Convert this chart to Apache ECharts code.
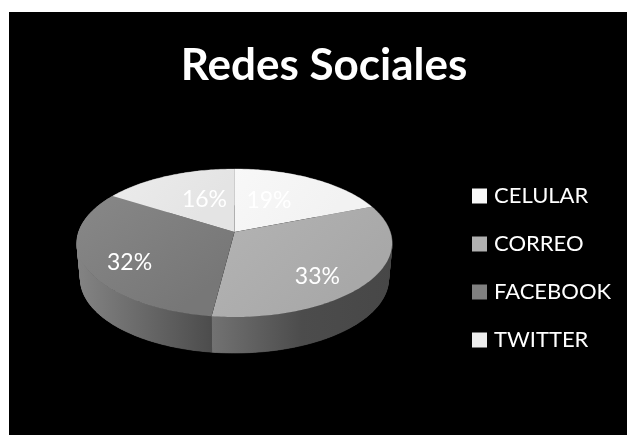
<!DOCTYPE html>
<html>
<head>
<meta charset="utf-8">
<style>
  html, body { margin: 0; padding: 0; background: #fff; }
  #chart { width: 627px; height: 435px; }
</style>
<script src="https://cdn.jsdelivr.net/npm/echarts@6/dist/echarts.min.js"></script>
</head>
<body>
<div id="chart"></div>
<script>
const chartTitle = 'Redes Sociales';
const categories = ['CELULAR', 'CORREO', 'FACEBOOK', 'TWITTER'];
const shares = [19, 33, 32, 16];

// Face and wall shading for each slice.
const faceColors = [
  ['#f8f8f8', '#f2f2f2'],
  ['#b4b4b4', '#a8a8a8'],
  ['#888888', '#777777'],
  ['#ececec', '#e4e4e4']
];
const wallColors = [
  ['#9a9a9a', '#6a6a6a', '#6a6a6a'],
  ['#727272', '#4c4c4c', '#474747'],
  ['#848484', '#686868', '#4c4c4c'],
  ['#8a8a8a', '#6a6a6a', '#6a6a6a']
];
const legendColors = ['#f8f8f8', '#b0b0b0', '#808080', '#ececec'];

// Tilted disc: a circle seen in perspective, so its centre sits above the
// middle of the ellipse it projects to.
const topDisc = { cx: 234.5, cy: 243, a: 155.8, b: 74, d: -11, k: 0.1486 };
const bottomDisc = { cx: 234.5, cy: 279, a: 152.3, b: 74, d: -11, k: 0.1486 };
const labelRadius = 0.62;
const labelNudge = [[-16, 3], [2, 15], [-14, 11], [13, 4]];

function project(disc, angle, r) {
  const u = r * Math.sin(angle);
  const v = -r * Math.cos(angle);
  const w = 1 - disc.k * v;
  return [disc.cx + disc.a * u / w, disc.cy + (disc.b * v + disc.d) / w];
}

function rim(disc, from, to) {
  const steps = Math.max(2, Math.ceil((to - from) / (Math.PI / 180)));
  const pts = [];
  for (let i = 0; i <= steps; i++) {
    pts.push(project(disc, from + (to - from) * i / steps, 1));
  }
  return pts;
}

const total = shares.reduce((s, v) => s + v, 0);
function sliceAngles(index) {
  const before = shares.slice(0, index).reduce((s, v) => s + v, 0);
  return [before / total * 2 * Math.PI, (before + shares[index]) / total * 2 * Math.PI];
}

function faceShade(stops) {
  return new echarts.graphic.LinearGradient(0, 0, 0.6, 1, [
    { offset: 0, color: stops[0] },
    { offset: 1, color: stops[1] }
  ]);
}

// Horizontal shading in page pixels, so every wall piece shares one ramp.
function wallShade(stops, x0, x1) {
  return new echarts.graphic.LinearGradient(x0, 0, x1, 0, [
    { offset: 0, color: stops[0] },
    { offset: 0.5, color: stops[1] },
    { offset: 1, color: stops[2] }
  ], true);
}

// The two rims cross near the silhouette, so small facets fill the tangent
// edge there and one smooth band on top covers their seams everywhere else.
function wallPieces(top, bottom, stops) {
  const xs = top.concat(bottom).map(p => p[0]);
  const fill = wallShade(stops, Math.min(...xs), Math.max(...xs));
  const pieces = [];
  for (let i = 0; i < top.length - 1; i++) {
    pieces.push({
      type: 'polygon',
      z2: 1,
      shape: { points: [top[i], top[i + 1], bottom[i + 1], bottom[i]] },
      style: { fill, stroke: fill, lineWidth: 0.6 }
    });
  }
  pieces.push({
    type: 'polygon',
    z2: 2,
    shape: { points: top.concat(bottom.slice().reverse()) },
    style: { fill }
  });
  return pieces;
}

function renderSlice(seriesIndex) {
  return function () {
    const [from, to] = sliceAngles(seriesIndex);
    const top = rim(topDisc, from, to);
    const bottom = rim(bottomDisc, from, to);
    const apex = project(topDisc, 0, 0);
    const mid = (from + to) / 2;
    const anchor = project(topDisc, mid, labelRadius);
    const nudge = labelNudge[seriesIndex];
    return {
      type: 'group',
      children: wallPieces(top, bottom, wallColors[seriesIndex]).concat([
        {
          type: 'polygon',
          z2: 10,
          shape: { points: [apex].concat(top) },
          style: { fill: faceShade(faceColors[seriesIndex]) }
        },
        {
          type: 'text',
          z2: 20,
          x: anchor[0] + nudge[0],
          y: anchor[1] + nudge[1],
          style: {
            text: shares[seriesIndex] + '%',
            fill: '#ffffff',
            font: '23px Lato',
            align: 'center',
            verticalAlign: 'middle'
          }
        }
      ])
    };
  };
}

const chart = echarts.init(document.getElementById('chart'), null, { renderer: 'canvas' });
chart.setOption({
  animation: false,
  backgroundColor: '#ffffff',
  title: {
    text: chartTitle,
    left: 324,
    top: 44,
    padding: 0,
    textAlign: 'center',
    textStyle: { color: '#ffffff', fontFamily: 'Lato', fontWeight: 'bold', fontSize: 44 }
  },
  legend: {
    orient: 'vertical',
    left: 467,
    top: 180,
    itemWidth: 15,
    itemHeight: 15,
    itemGap: 26,
    icon: 'rect',
    selectedMode: false,
    textStyle: { color: '#ffffff', fontFamily: 'Lato', fontSize: 22, lineHeight: 22, padding: [0, 0, 0, 2] },
    data: categories.map((name, i) => ({ name, itemStyle: { color: legendColors[i] } }))
  },
  graphic: [{
    type: 'rect',
    z: -1,
    silent: true,
    shape: { x: 9, y: 12, width: 618, height: 423 },
    style: { fill: '#000000' }
  }],
  series: categories.map((name, i) => ({
    type: 'custom',
    name,
    coordinateSystem: 'none',
    silent: true,
    itemStyle: { color: legendColors[i] },
    data: [[shares[i]]],
    renderItem: renderSlice(i)
  }))
});
</script>
</body>
</html>
